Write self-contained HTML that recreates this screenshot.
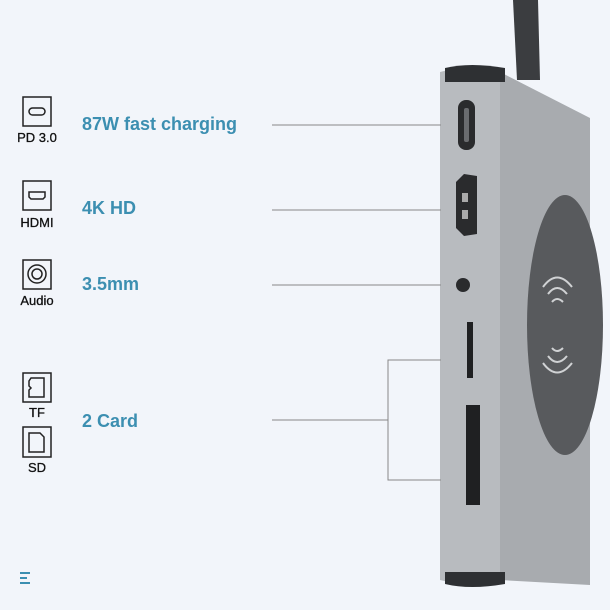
<!DOCTYPE html><html><head><style>body{margin:0;background:#f2f5fa}</style></head><body>
<svg width="610" height="610" xmlns="http://www.w3.org/2000/svg" style="display:block;font-family:'Liberation Sans',sans-serif">
<rect width="610" height="610" fill="#f2f5fa"/>
<polygon points="513,0 538,0 540,80 517,80" fill="#3b3d40"/>
<polygon points="500,72 590,118 590,585 500,580" fill="#a8abaf"/>
<path d="M440,72 Q470,64 500,70 L500,582 Q470,588 440,580 Z" fill="#b8bbbf"/>
<path d="M445,68 Q470,62 505,68 L505,82 L445,82 Z" fill="#2e3033"/>
<path d="M445,572 L505,572 L505,584 Q470,590 445,584 Z" fill="#2e3033"/>
<ellipse cx="565" cy="325" rx="38" ry="130" fill="#585a5d"/>
<g fill="none" stroke="#d0d2d4" stroke-width="2">
<path d="M548,294 Q557,282 567,294"/><path d="M543,287 Q557,268 572,287"/><path d="M552,302 Q557,296 563,302"/>
<path d="M552,348 Q557,354 563,348"/><path d="M548,356 Q557,368 567,356"/><path d="M543,363 Q557,382 572,363"/>
</g>
<rect x="458" y="100" width="17" height="50" rx="8" fill="#2a2b2d"/><rect x="464" y="108" width="5" height="34" rx="2" fill="#6a6c6f"/>
<path d="M456,182 L464,174 L477,176 L477,234 L464,236 L456,228 Z" fill="#2a2b2d"/>
<rect x="462" y="193" width="6" height="9" fill="#aaa"/><rect x="462" y="210" width="6" height="9" fill="#aaa"/>
<circle cx="463" cy="285" r="7" fill="#2a2b2d"/>
<rect x="467" y="322" width="6" height="56" fill="#1f2022"/>
<rect x="466" y="405" width="14" height="100" fill="#1f2022"/>
<g stroke="#888" stroke-width="1" fill="none">
<line x1="272" y1="125" x2="441" y2="125"/><line x1="272" y1="210" x2="441" y2="210"/><line x1="272" y1="285" x2="441" y2="285"/>
<line x1="272" y1="420" x2="388" y2="420"/><polyline points="441,360 388,360 388,480 441,480"/>
</g>
<g fill="#3c8fb1" font-weight="bold" font-size="18">
<text x="82" y="130">87W fast charging</text><text x="82" y="214">4K HD</text><text x="82" y="290">3.5mm</text><text x="82" y="427">2 Card</text>
</g>
<g fill="none" stroke="#222" stroke-width="1.5">
<rect x="23" y="97" width="28" height="29"/><rect x="29" y="108" width="16" height="7" rx="3.5"/>
<rect x="23" y="181" width="28" height="29"/><path d="M29,192 h16 v5 l-2,2 h-12 l-2,-2 z"/>
<rect x="23" y="260" width="28" height="29"/><circle cx="37" cy="274" r="9"/><circle cx="37" cy="274" r="5"/>
<rect x="23" y="373" width="28" height="29"/><path d="M31,378 h13 v19 h-15 v-7 l2,-2 l-2,-2 v-5 z"/>
<rect x="23" y="427" width="28" height="30"/><path d="M29,433 h11 l4,4 v15 h-15 z"/>
</g>
<g fill="#111" font-size="13" text-anchor="middle" stroke="#111" stroke-width="0.3">
<text x="37" y="142">PD 3.0</text><text x="37" y="227">HDMI</text><text x="37" y="305">Audio</text><text x="37" y="417">TF</text><text x="37" y="472">SD</text>
</g>
<g fill="#3c8fb1"><rect x="20" y="572" width="10" height="2"/><rect x="20" y="577" width="7" height="2"/><rect x="20" y="582" width="10" height="2"/></g>
</svg></body></html>
